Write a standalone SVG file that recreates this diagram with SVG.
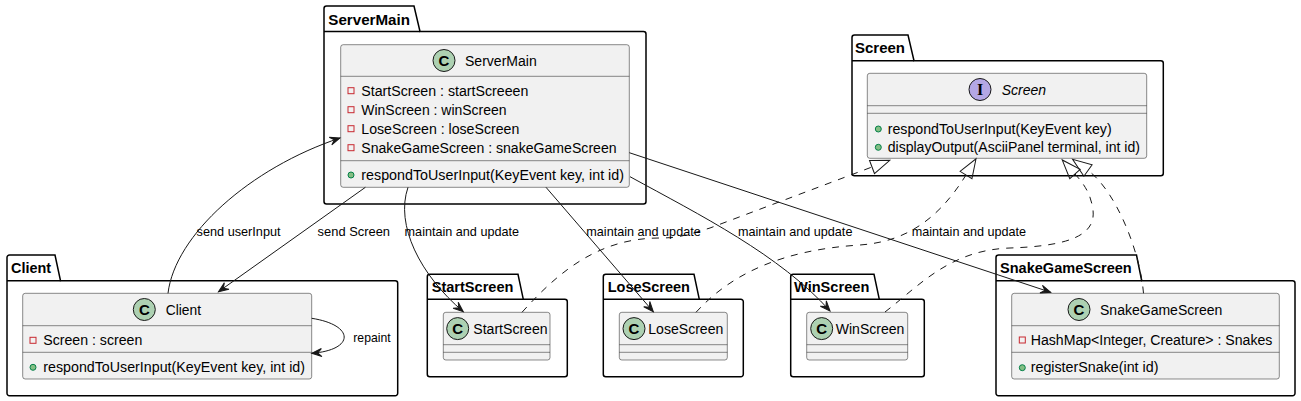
<svg xmlns="http://www.w3.org/2000/svg" width="1301" height="401" viewBox="0 0 1301 401">
<defs>
<style>
.pkg{fill:#FFFFFF;stroke:#000000;stroke-width:1.5}
.cls{fill:#F1F1F1;stroke:#181818;stroke-width:0.5}
.sep{stroke:#181818;stroke-width:0.5}
.ptitle{font-family:"Liberation Sans",Arial,sans-serif;font-size:14px;font-weight:bold;fill:#000000}
.ctitle{font-family:"Liberation Sans",Arial,sans-serif;font-size:14px;fill:#000000}
.itl{font-style:italic}
.mem{font-family:"Liberation Sans",Arial,sans-serif;font-size:14px;fill:#000000}
.lbl{font-family:"Liberation Sans",Arial,sans-serif;font-size:13px;fill:#000000}
.circC{fill:#ADD1B2;stroke:#181818;stroke-width:1}
.circI{fill:#B4A7E5;stroke:#181818;stroke-width:1}
.letter{font-family:"Liberation Sans",Arial,sans-serif;font-size:15px;font-weight:bold;fill:#000000;text-anchor:middle}
.letterI{font-family:"Liberation Serif","Times New Roman",serif;font-size:16px;font-weight:bold;fill:#000000;text-anchor:middle}
.priv{fill:none;stroke:#C82930;stroke-width:1}
.pub{fill:#84BE84;stroke:#038048;stroke-width:1}
.edge{fill:none;stroke:#181818;stroke-width:1}
.dash{stroke-dasharray:7,7}
</style>
<marker id="arrow" markerUnits="userSpaceOnUse" markerWidth="12" markerHeight="12" orient="auto" overflow="visible" refX="0" refY="0">
<path d="M0,0 L-10,-4 L-6,0 L-10,4 Z" fill="#181818" stroke="#181818" stroke-width="1"/>
</marker>
<marker id="tri" markerUnits="userSpaceOnUse" markerWidth="20" markerHeight="16" orient="auto" overflow="visible" refX="0" refY="0">
<path d="M0,-7 L19,0 L0,7 Z" fill="none" stroke="#181818" stroke-width="1" stroke-dasharray="none"/>
</marker>
</defs>
<rect x="0" y="0" width="1301" height="401" fill="#FFFFFF"/>

<g id="pkg-ServerMain">
<path class="pkg" d="M324,8.5 A2.5,2.5 0 0 1 326.5,6 L414,6 L420,31.5 L643.5,31.5 A2.5,2.5 0 0 1 646,34 L646,201.5 A2.5,2.5 0 0 1 643.5,204 L326.5,204 A2.5,2.5 0 0 1 324,201.5 Z"/>
<line class="pkg" x1="324" y1="31.5" x2="420" y2="31.5"/>
<text class="ptitle" x="328.3" y="24.5" textLength="81.7" lengthAdjust="spacingAndGlyphs">ServerMain</text>
<g id="class-ServerMain">
<rect class="cls" x="340.7" y="44.7" width="288.6" height="142.6" rx="2.5"/>
<line class="sep" x1="340.7" y1="76.3" x2="629.3" y2="76.3"/>
<line class="sep" x1="340.7" y1="160.7" x2="629.3" y2="160.7"/>
<circle class="circC" cx="444" cy="60.5" r="11"/>
<text class="letter" x="444" y="65.8">C</text>
<text class="ctitle" x="465" y="65.5" textLength="71.7" lengthAdjust="spacingAndGlyphs">ServerMain</text>
<rect class="priv" x="348" y="87.7" width="6" height="6"/>
<text class="mem" x="361.3" y="96" textLength="167" lengthAdjust="spacingAndGlyphs">StartScreen : startScreeen</text>
<rect class="priv" x="348" y="106.7" width="6" height="6"/>
<text class="mem" x="361.3" y="115" textLength="145.3" lengthAdjust="spacingAndGlyphs">WinScreen : winScreen</text>
<rect class="priv" x="348" y="125.7" width="6" height="6"/>
<text class="mem" x="361.3" y="134" textLength="158" lengthAdjust="spacingAndGlyphs">LoseScreen : loseScreen</text>
<rect class="priv" x="348" y="144.7" width="6" height="6"/>
<text class="mem" x="361.3" y="153" textLength="255.3" lengthAdjust="spacingAndGlyphs">SnakeGameScreen : snakeGameScreen</text>
<circle class="pub" cx="351" cy="175" r="3"/>
<text class="mem" x="361.3" y="180" textLength="262.7" lengthAdjust="spacingAndGlyphs">respondToUserInput(KeyEvent key, int id)</text>
</g>
</g>

<g id="pkg-Screen">
<path class="pkg" d="M852,37.5 A2.5,2.5 0 0 1 854.5,35 L908,35 L914,60.7 L1160.8,60.7 A2.5,2.5 0 0 1 1163.3,63.2 L1163.3,173.2 A2.5,2.5 0 0 1 1160.8,175.7 L854.5,175.7 A2.5,2.5 0 0 1 852,173.2 Z"/>
<line class="pkg" x1="852" y1="60.7" x2="914" y2="60.7"/>
<text class="ptitle" x="855" y="53.3" textLength="50" lengthAdjust="spacingAndGlyphs">Screen</text>
<g id="class-Screen">
<rect class="cls" x="867.3" y="73.3" width="279.4" height="85" rx="2.5"/>
<line class="sep" x1="867.3" y1="105.7" x2="1146.7" y2="105.7"/>
<line class="sep" x1="867.3" y1="113.3" x2="1146.7" y2="113.3"/>
<circle class="circI" cx="980" cy="89.5" r="11"/>
<text class="letterI" x="980" y="95">I</text>
<text class="ctitle itl" x="1001.7" y="94.5" textLength="44.3" lengthAdjust="spacingAndGlyphs">Screen</text>
<circle class="pub" cx="878.3" cy="129" r="3"/>
<text class="mem" x="887.7" y="133.8" textLength="224" lengthAdjust="spacingAndGlyphs">respondToUserInput(KeyEvent key)</text>
<circle class="pub" cx="878.3" cy="147.3" r="3"/>
<text class="mem" x="887.7" y="152.2" textLength="252.3" lengthAdjust="spacingAndGlyphs">displayOutput(AsciiPanel terminal, int id)</text>
</g>
</g>

<g id="pkg-Client">
<path class="pkg" d="M7,257.5 A2.5,2.5 0 0 1 9.5,255 L55,255 L60.5,280.7 L395.2,280.7 A2.5,2.5 0 0 1 397.7,283.2 L397.7,393.2 A2.5,2.5 0 0 1 395.2,395.7 L9.5,395.7 A2.5,2.5 0 0 1 7,393.2 Z"/>
<line class="pkg" x1="7" y1="280.7" x2="60.5" y2="280.7"/>
<text class="ptitle" x="11" y="272.7" textLength="40" lengthAdjust="spacingAndGlyphs">Client</text>
<g id="class-Client">
<rect class="cls" x="22.7" y="293.3" width="289" height="85.7" rx="2.5"/>
<line class="sep" x1="22.7" y1="325.7" x2="311.7" y2="325.7"/>
<line class="sep" x1="22.7" y1="352.3" x2="311.7" y2="352.3"/>
<circle class="circC" cx="144.3" cy="309.5" r="11"/>
<text class="letter" x="144.3" y="314.8">C</text>
<text class="ctitle" x="165.7" y="314.8" textLength="35.3" lengthAdjust="spacingAndGlyphs">Client</text>
<rect class="priv" x="30" y="337.3" width="6" height="6"/>
<text class="mem" x="43.3" y="345" textLength="99" lengthAdjust="spacingAndGlyphs">Screen : screen</text>
<circle class="pub" cx="33" cy="367.3" r="3"/>
<text class="mem" x="43.3" y="372.3" textLength="261.7" lengthAdjust="spacingAndGlyphs">respondToUserInput(KeyEvent key, int id)</text>
</g>
</g>

<g id="pkg-StartScreen">
<path class="pkg" d="M427.3,276.8 A2.5,2.5 0 0 1 429.8,274.3 L518,274.3 L523.3,299.3 L564.8,299.3 A2.5,2.5 0 0 1 567.3,301.8 L567.3,374.2 A2.5,2.5 0 0 1 564.8,376.7 L429.8,376.7 A2.5,2.5 0 0 1 427.3,374.2 Z"/>
<line class="pkg" x1="427.3" y1="299.3" x2="523.3" y2="299.3"/>
<text class="ptitle" x="431.7" y="291.7" textLength="81.7" lengthAdjust="spacingAndGlyphs">StartScreen</text>
<g id="class-StartScreen">
<rect class="cls" x="443.3" y="312.3" width="106.7" height="47.7" rx="2.5"/>
<line class="sep" x1="443.3" y1="344.7" x2="550" y2="344.7"/>
<line class="sep" x1="443.3" y1="352.3" x2="550" y2="352.3"/>
<circle class="circC" cx="457.7" cy="328.6" r="11"/>
<text class="letter" x="457.7" y="333.9">C</text>
<text class="ctitle" x="473.3" y="333.8" textLength="74.3" lengthAdjust="spacingAndGlyphs">StartScreen</text>
</g>
</g>

<g id="pkg-LoseScreen">
<path class="pkg" d="M603.3,276.8 A2.5,2.5 0 0 1 605.8,274.3 L694,274.3 L699.3,299.3 L740.8,299.3 A2.5,2.5 0 0 1 743.3,301.8 L743.3,374.2 A2.5,2.5 0 0 1 740.8,376.7 L605.8,376.7 A2.5,2.5 0 0 1 603.3,374.2 Z"/>
<line class="pkg" x1="603.3" y1="299.3" x2="699.3" y2="299.3"/>
<text class="ptitle" x="607.7" y="291.7" textLength="82.3" lengthAdjust="spacingAndGlyphs">LoseScreen</text>
<g id="class-LoseScreen">
<rect class="cls" x="619.3" y="312.3" width="108" height="47.7" rx="2.5"/>
<line class="sep" x1="619.3" y1="344.7" x2="727.3" y2="344.7"/>
<line class="sep" x1="619.3" y1="352.3" x2="727.3" y2="352.3"/>
<circle class="circC" cx="634" cy="328.6" r="11"/>
<text class="letter" x="634" y="333.9">C</text>
<text class="ctitle" x="648.3" y="333.8" textLength="75" lengthAdjust="spacingAndGlyphs">LoseScreen</text>
</g>
</g>

<g id="pkg-WinScreen">
<path class="pkg" d="M790.7,276.8 A2.5,2.5 0 0 1 793.2,274.3 L874,274.3 L879.3,299.3 L921.8,299.3 A2.5,2.5 0 0 1 924.3,301.8 L924.3,374.2 A2.5,2.5 0 0 1 921.8,376.7 L793.2,376.7 A2.5,2.5 0 0 1 790.7,374.2 Z"/>
<line class="pkg" x1="790.7" y1="299.3" x2="879.3" y2="299.3"/>
<text class="ptitle" x="794" y="291.7" textLength="75.3" lengthAdjust="spacingAndGlyphs">WinScreen</text>
<g id="class-WinScreen">
<rect class="cls" x="806.7" y="312.3" width="101" height="47.7" rx="2.5"/>
<line class="sep" x1="806.7" y1="344.7" x2="907.7" y2="344.7"/>
<line class="sep" x1="806.7" y1="352.3" x2="907.7" y2="352.3"/>
<circle class="circC" cx="821.7" cy="328.6" r="11"/>
<text class="letter" x="821.7" y="333.9">C</text>
<text class="ctitle" x="835.7" y="333.8" textLength="68.7" lengthAdjust="spacingAndGlyphs">WinScreen</text>
</g>
</g>

<g id="pkg-SnakeGameScreen">
<path class="pkg" d="M996,257.5 A2.5,2.5 0 0 1 998.5,255 L1136.5,255 L1141.7,280.7 L1292.5,280.7 A2.5,2.5 0 0 1 1295,283.2 L1295,393.2 A2.5,2.5 0 0 1 1292.5,395.7 L998.5,395.7 A2.5,2.5 0 0 1 996,393.2 Z"/>
<line class="pkg" x1="996" y1="280.7" x2="1141.7" y2="280.7"/>
<text class="ptitle" x="1000" y="272.7" textLength="131.7" lengthAdjust="spacingAndGlyphs">SnakeGameScreen</text>
<g id="class-SnakeGameScreen">
<rect class="cls" x="1011.7" y="293.3" width="267.6" height="85.7" rx="2.5"/>
<line class="sep" x1="1011.7" y1="325.7" x2="1279.3" y2="325.7"/>
<line class="sep" x1="1011.7" y1="352.3" x2="1279.3" y2="352.3"/>
<circle class="circC" cx="1079" cy="309.5" r="11"/>
<text class="letter" x="1079" y="314.8">C</text>
<text class="ctitle" x="1100" y="314.8" textLength="122.3" lengthAdjust="spacingAndGlyphs">SnakeGameScreen</text>
<rect class="priv" x="1019.3" y="337" width="6" height="6"/>
<text class="mem" x="1030.7" y="345" textLength="241.7" lengthAdjust="spacingAndGlyphs">HashMap&lt;Integer, Creature&gt; : Snakes</text>
<circle class="pub" cx="1022.3" cy="367.7" r="3"/>
<text class="mem" x="1030.7" y="372.3" textLength="127.7" lengthAdjust="spacingAndGlyphs">registerSnake(int id)</text>
</g>
</g>

<g id="connectors">
<path class="edge" d="M168,293.3 C175,235 250,168 340,138" marker-end="url(#arrow)"/>
<path class="edge" d="M365.4,187.3 L218.5,291.7" marker-end="url(#arrow)"/>
<path class="edge" d="M408,187.3 C395,225 420,275 463.3,311.7" marker-end="url(#arrow)"/>
<path class="edge" d="M546,187.3 L653.3,311.7" marker-end="url(#arrow)"/>
<path class="edge" d="M630,176.7 C700,215 780,255 830,311" marker-end="url(#arrow)"/>
<path class="edge" d="M629.3,152.7 L1050.7,292.3" marker-end="url(#arrow)"/>
<path class="edge" d="M311.7,318.3 C355,325 355,350 311.7,353.3" marker-end="url(#arrow)"/>
<path class="edge dash" d="M522,312.3 C560,270 600,238 660,238 C680,238 690,234 710,228 L872,167" marker-end="url(#tri)"/>
<path class="edge dash" d="M696,312.3 C730,275 780,250 860,245 C900,242 935,225 966,175" marker-end="url(#tri)"/>
<path class="edge dash" d="M885,312 C920,285 950,250 1010,248 C1070,246 1096,235 1093,210 C1091,195 1085,185 1075,174" marker-end="url(#tri)"/>
<path class="edge dash" d="M1143.5,293.3 C1140,250 1115,190 1088,170.5" marker-end="url(#tri)"/>
<text class="lbl" x="196.6" y="236" textLength="84" lengthAdjust="spacingAndGlyphs">send userInput</text>
<text class="lbl" x="317.6" y="236" textLength="72.4" lengthAdjust="spacingAndGlyphs">send Screen</text>
<text class="lbl" x="404.6" y="236" textLength="114.4" lengthAdjust="spacingAndGlyphs">maintain and update</text>
<text class="lbl" x="586.3" y="236" textLength="114.4" lengthAdjust="spacingAndGlyphs">maintain and update</text>
<text class="lbl" x="738" y="236" textLength="114.4" lengthAdjust="spacingAndGlyphs">maintain and update</text>
<text class="lbl" x="911.7" y="236" textLength="114.4" lengthAdjust="spacingAndGlyphs">maintain and update</text>
<text class="lbl" x="353.3" y="342" textLength="37.3" lengthAdjust="spacingAndGlyphs">repaint</text>
</g>
</svg>
